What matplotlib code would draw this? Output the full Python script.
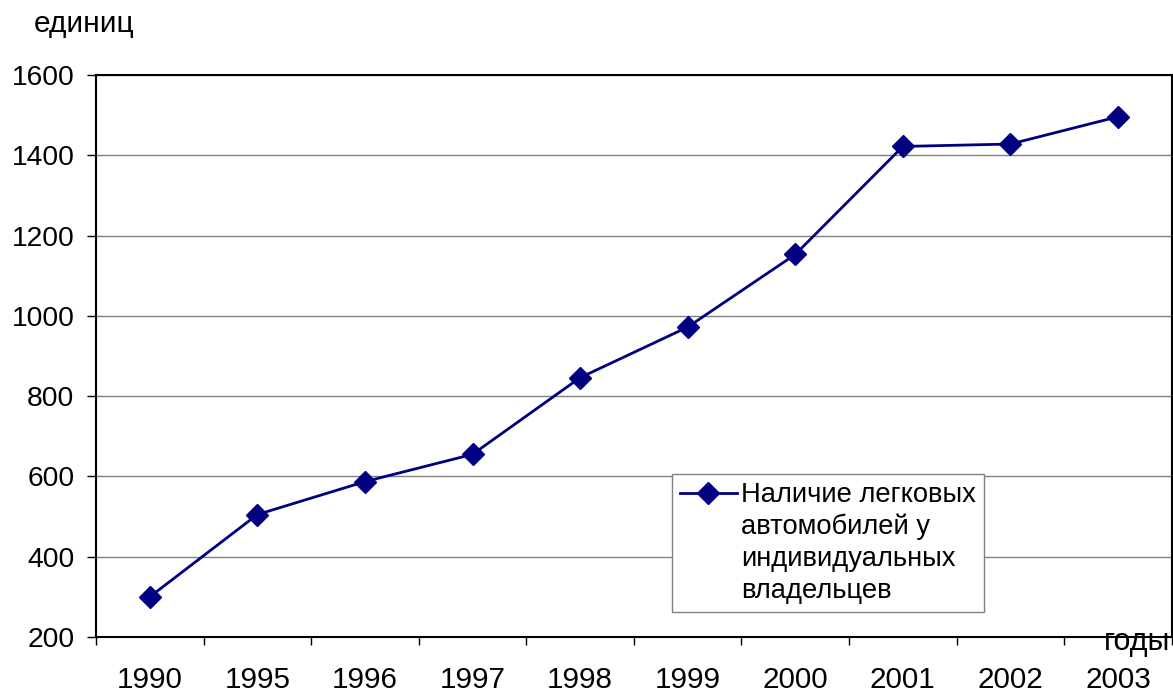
import numpy as np
import matplotlib
matplotlib.use("Agg")
import matplotlib.pyplot as plt
from matplotlib.legend_handler import HandlerLine2D

plt.rcParams['font.family'] = ['Liberation Sans', 'DejaVu Sans']

# Наличие легковых автомобилей у индивидуальных владельцев, единиц
years = ['1990', '1995', '1996', '1997', '1998', '1999', '2000', '2001', '2002', '2003']
cars = [300, 505, 587, 655, 846, 972, 1153, 1422, 1428, 1496]
yticks = [200, 400, 600, 800, 1000, 1200, 1400, 1600]
series_label = 'Наличие легковых\nавтомобилей у\nиндивидуальных\nвладельцев'

NAVY = '#000080'


class FirstLineHandler(HandlerLine2D):
    # ставим маркер легенды напротив первой строки подписи
    def __init__(self, shift, **kw):
        super().__init__(**kw)
        self.shift = shift

    def create_artists(self, legend, orig_handle, xdescent, ydescent,
                       width, height, fontsize, trans):
        arts = super().create_artists(legend, orig_handle, xdescent, ydescent,
                                      width, height, fontsize, trans)
        for a in arts:
            a.set_ydata(np.asarray(a.get_ydata()) + self.shift)
        return arts


fig = plt.figure(figsize=(11.73, 6.93), dpi=100)
ax = fig.add_axes([0.0818, 0.0808, 0.9172, 0.811])

x = np.arange(len(years))
line, = ax.plot(x, cars, color=NAVY, linewidth=2.0, marker='D', markersize=11,
                markerfacecolor=NAVY, markeredgecolor=NAVY, label=series_label, zorder=3)

ax.set_xlim(-0.5, len(years) - 0.5)
ax.set_ylim(200, 1600)
ax.set_yticks(yticks)
ax.set_yticklabels([str(v) for v in yticks])
ax.set_xticks(x)
ax.set_xticklabels(years)
ax.set_xticks(np.arange(len(years) + 1) - 0.5, minor=True)

ax.tick_params(axis='x', which='major', length=0, pad=21, labelsize=21.3)
ax.tick_params(axis='x', which='minor', length=6, width=1, direction='out', color='black')
ax.tick_params(axis='y', length=6.5, width=1, direction='out', pad=9, labelsize=20.3)

ax.yaxis.grid(True, color='#808080', linewidth=1.0)
ax.set_axisbelow(True)
for sp in ax.spines.values():
    sp.set_color('black')
    sp.set_linewidth(1.5)

ax.text(-0.011, 1.076, 'единиц', transform=ax.transAxes, fontsize=21.5,
        ha='center', va='baseline')
ax.text(0.9985, -0.023, 'годы', transform=ax.transAxes, fontsize=22,
        ha='right', va='baseline', clip_on=False, zorder=1)

leg = ax.legend(handles=[line], loc='lower left', bbox_to_anchor=(0.535, 0.0445),
                borderaxespad=0, fontsize=19.7, frameon=True, fancybox=False,
                framealpha=1, edgecolor='#808080', handlelength=2.1,
                handletextpad=0.14, borderpad=0.3,
                handler_map={line: FirstLineHandler(shift=36, numpoints=1)})
leg.get_frame().set_linewidth(1.0)
for t in leg.get_texts():
    t.set_linespacing(1.29)

fig.savefig('out.png', dpi=100, facecolor='white')
